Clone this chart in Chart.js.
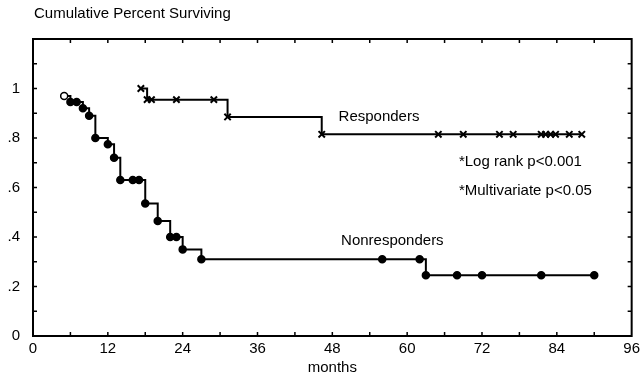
<!DOCTYPE html>
<html>
<head>
<meta charset="utf-8">
<script src="https://cdn.jsdelivr.net/npm/chart.js@4.4.1/dist/chart.umd.min.js"></script>
<style>
  html, body { margin: 0; padding: 0; background: #fff; }
</style>
</head>
<body>
<canvas id="myChart" width="644" height="387"></canvas>
<script>

// Kaplan-Meier steps (months, fraction surviving)
let nonMonths = [5, 6, 7, 8, 9, 10, 12, 13, 14, 16, 17, 18, 20, 22, 23, 24, 27, 56, 62, 63, 68, 72, 81.5, 90];
let nonSurv = [0.97, 0.945, 0.945, 0.92, 0.89, 0.80, 0.775, 0.72, 0.63, 0.63, 0.63, 0.535, 0.465, 0.40, 0.40, 0.35, 0.31, 0.31, 0.31, 0.245, 0.245, 0.245, 0.245, 0.245];

let respMonths = [17.3, 18.3, 19, 23, 29, 31.2, 46.3, 65, 69, 74.8, 77, 81.5, 82.2, 83, 83.8, 86, 88];
let respSurv = [1.0, 0.955, 0.955, 0.955, 0.955, 0.885, 0.815, 0.815, 0.815, 0.815, 0.815, 0.815, 0.815, 0.815, 0.815, 0.815, 0.815];

let xTicks = [0, 12, 24, 36, 48, 60, 72, 84, 96];
let yTicks = [0, 0.2, 0.4, 0.6, 0.8, 1];
let seriesNames = ['Nonresponders', 'Responders'];
let notes = ['*Log rank p<0.001', '*Multivariate p<0.05'];

let font = "'Liberation Sans', Arial, Helvetica, sans-serif";

let toPoints = (xs, ys) => xs.map((x, i) => ({ x: x, y: ys[i] }));

// frame, inner tick marks and the text labels inside the plot
let framePlugin = {
  id: 'frame',
  afterDraw(chart) {
    let c = chart.ctx;
    let a = chart.chartArea;
    let xs = chart.scales.x;
    let ys = chart.scales.y;
    c.save();
    c.strokeStyle = '#000';
    c.lineWidth = 2;
    c.strokeRect(a.left, a.top, a.right - a.left, a.bottom - a.top);

    c.lineWidth = 1.5;
    c.beginPath();
    for (let m = 6; m < 96; m += 6) {
      let px = xs.getPixelForValue(m);
      c.moveTo(px, a.bottom); c.lineTo(px, a.bottom - 4);
      c.moveTo(px, a.top); c.lineTo(px, a.top + 4);
    }
    for (let k = 1; k < 12; k++) {
      let py = ys.getPixelForValue(k / 10);
      c.moveTo(a.left, py); c.lineTo(a.left + 4, py);
      c.moveTo(a.right, py); c.lineTo(a.right - 4, py);
    }
    c.stroke();

    c.fillStyle = '#000';
    c.font = '15px ' + font;
    c.textBaseline = 'middle';
    c.textAlign = 'left';
    c.fillText(seriesNames[1], xs.getPixelForValue(49), ys.getPixelForValue(0.885));
    c.fillText(seriesNames[0], xs.getPixelForValue(49.4), ys.getPixelForValue(0.385));
    c.fillText(notes[0], xs.getPixelForValue(68.3), ys.getPixelForValue(0.705));
    c.fillText(notes[1], xs.getPixelForValue(68.3), ys.getPixelForValue(0.585));

    c.fillText('Cumulative Percent Surviving', 34, 14);
    c.restore();
  }
};

let ctx = document.getElementById('myChart').getContext('2d');

let myChart = new Chart(ctx, {
  type: 'line',
  data: {
    datasets: [{
      label: seriesNames[0],
      data: toPoints(nonMonths, nonSurv),
      stepped: true,
      borderColor: '#000',
      borderWidth: 2,
      pointStyle: 'circle',
      pointRadius: 3.5,
      pointBorderWidth: 1.5,
      pointBorderColor: '#000',
      pointBackgroundColor: nonMonths.map((m, i) => i === 0 ? '#fff' : '#000'),
      fill: false
    }, {
      label: seriesNames[1],
      data: toPoints(respMonths, respSurv),
      stepped: true,
      borderColor: '#000',
      borderWidth: 2,
      pointStyle: 'crossRot',
      pointRadius: 4.5,
      pointBorderWidth: 2,
      pointBorderColor: '#000',
      fill: false
    }]
  },
  options: {
    responsive: false,
    animation: false,
    layout: { padding: { top: 39, right: 9, left: 0, bottom: 0 } },
    plugins: {
      legend: { display: false },
      tooltip: { enabled: false }
    },
    scales: {
      x: {
        type: 'linear',
        min: 0,
        max: 96,
        afterBuildTicks: (scale) => { scale.ticks = xTicks.map(v => ({ value: v })); },
        grid: { display: false, drawTicks: false },
        border: { display: false },
        ticks: {
          color: '#000',
          padding: 4,
          maxRotation: 0,
          font: { family: font, size: 15 }
        },
        title: {
          display: true,
          text: 'months',
          color: '#000',
          padding: { top: 2, bottom: 10 },
          font: { family: font, size: 15 }
        },
        afterFit: (scale) => { scale.height = 51; }
      },
      y: {
        min: 0,
        max: 1.2,
        afterBuildTicks: (scale) => { scale.ticks = yTicks.map(v => ({ value: v })); },
        grid: { display: false, drawTicks: false },
        border: { display: false },
        ticks: {
          color: '#000',
          padding: 13,
          font: { family: font, size: 15 },
          callback: (v) => v === 0 ? '0' : v === 1 ? '1' : v.toFixed(1).replace(/^0/, '')
        },
        afterFit: (scale) => { scale.width = 33; }
      }
    }
  },
  plugins: [framePlugin]
});
</script>
</body>
</html>
